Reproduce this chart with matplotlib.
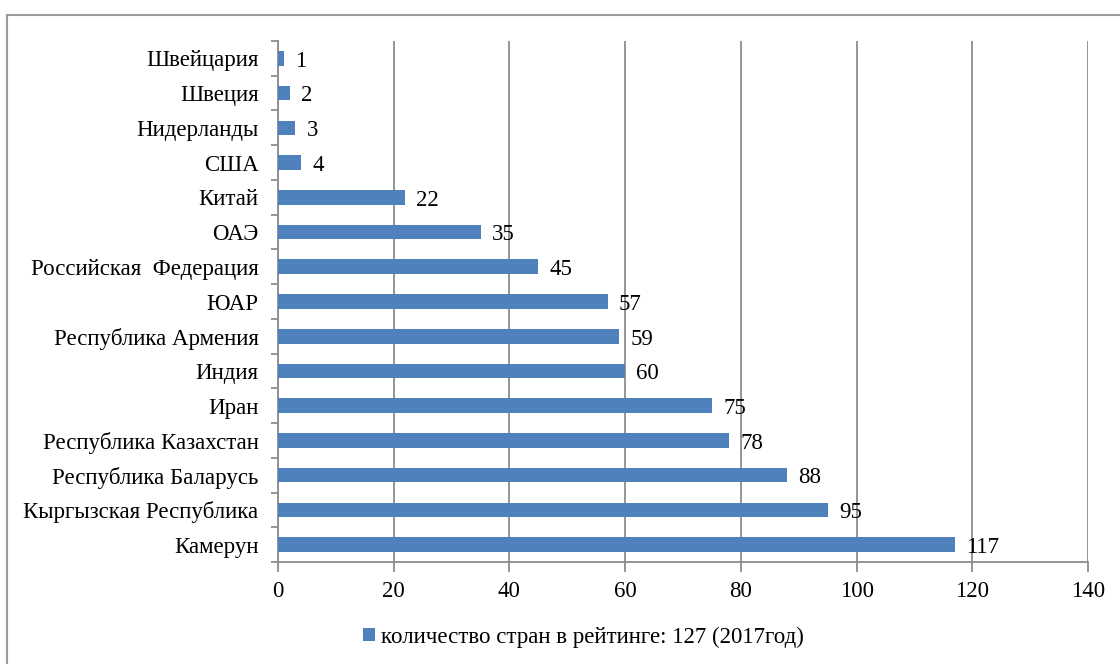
import numpy as np
import matplotlib.pyplot as plt
from matplotlib.patches import Rectangle

plt.rcParams['font.family'] = ['Liberation Serif', 'DejaVu Serif']

countries = ['Швейцария', 'Швеция', 'Нидерланды', 'США', 'Китай', 'ОАЭ',
             'Российская  Федерация', 'ЮАР', 'Республика Армения', 'Индия',
             'Иран', 'Республика Казахстан', 'Республика Баларусь',
             'Кыргызская Республика', 'Камерун']
ranks = [1, 2, 3, 4, 22, 35, 45, 57, 59, 60, 75, 78, 88, 95, 117]
xticks = [0, 20, 40, 60, 80, 100, 120, 140]
legend_label = 'количество стран в рейтинге: 127 (2017год)'

bar_color = '#4F81BD'
grid_color = '#8C8C8C'
fs = 16.5

fig = plt.figure(figsize=(11.2, 6.64), dpi=100)
ax = fig.add_axes([278/1120, 1 - 562/664, (1088-278)/1120, (562-41)/664])

# outer frame
fig.patches.append(Rectangle((7/1120, -0.1), 1.2, 1 - 15/664 + 0.1,
                             transform=fig.transFigure, fill=False,
                             edgecolor='#9a9a9a', linewidth=1.5))

y = np.arange(len(countries))[::-1]
bars = ax.barh(y, ranks, height=0.42, color=bar_color, label=legend_label, zorder=3)

for yi, v in zip(y, ranks):
    ax.annotate(str(v), (v, yi), xytext=(8, -2), textcoords='offset points',
                ha='left', va='center', fontsize=fs)

ax.set_xlim(0, 140)
ax.set_ylim(-0.5, len(countries) - 0.5)
ax.set_xticks(xticks)
ax.set_yticks(y)
ax.set_yticklabels(countries)
ax.set_yticks(np.arange(len(countries) + 1) - 0.5, minor=True)
ax.tick_params(axis='y', which='major', length=0, pad=14, labelsize=fs)
ax.tick_params(axis='y', which='minor', length=5, width=1.3, color=grid_color)
ax.tick_params(axis='x', length=7, width=1.3, color=grid_color, pad=7, labelsize=fs)

ax.grid(axis='x', color=grid_color, linewidth=1.3, zorder=0)
ax.set_axisbelow(True)
for s in ['top', 'right']:
    ax.spines[s].set_visible(False)
for s in ['left', 'bottom']:
    ax.spines[s].set_color(grid_color)
    ax.spines[s].set_linewidth(1.3)

fig.legend(handles=[bars], labels=[legend_label], loc='center left',
           bbox_to_anchor=(352/1120, 1 - 637/664), frameon=False, fontsize=fs,
           handlelength=0.5, handleheight=0.5, handletextpad=0.25, borderpad=0)

fig.savefig('out.png', dpi=100)
